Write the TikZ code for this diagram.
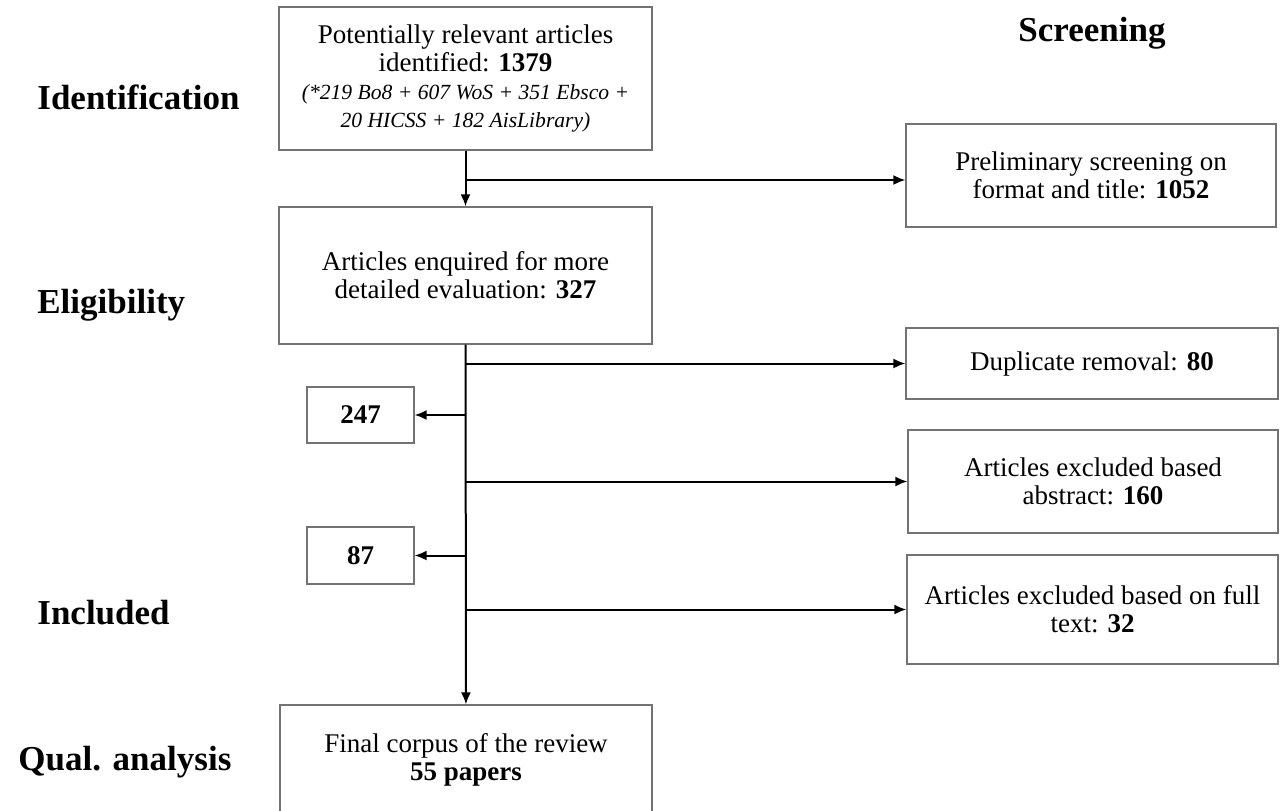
\documentclass[tikz,border=0pt]{standalone}
\usepackage{fontspec}
\setmainfont{Liberation Serif}
\usetikzlibrary{arrows.meta}
\tikzset{flowbox/.style={draw=black!55, line width=0.6pt, fill=white, align=center, inner sep=2pt, font=\fontsize{13.5}{14}\selectfont}}
\tikzset{stage/.style={anchor=west, inner sep=0pt, font=\fontsize{17.5}{20}\selectfont\bfseries}}
\tikzset{flow/.style={line width=1pt, -{Latex[length=6pt,width=5pt]}}}

\begin{document}
\begin{tikzpicture}[x=0.5pt,y=-0.5pt]
\useasboundingbox (0,0) rectangle (1286,810);
% stage labels
\node[stage, anchor=center] (screening) at (1092,33) {Screening};
\node[stage] (identification) at (37,97) {Identification};
\node[stage] (eligibility) at (37,305) {Eligibility};
\node[stage] (included) at (37,613) {Included};
\node[stage] (qual) at (18,762) {Qual. analysis};
% main column
\node[flowbox, minimum width=186.5pt, minimum height=71.5pt] (ident) at (465.5,78.5) {Potentially relevant articles\\identified: \textbf{1379}\\{\fontsize{10.8}{13}\selectfont\itshape (*219 Bo8 + 607 WoS + 351 Ebsco +}\\{\fontsize{10.8}{13}\selectfont\itshape 20 HICSS + 182 AisLibrary)}};
\node[flowbox, minimum width=186.5pt, minimum height=68.5pt] (elig) at (465.5,275.5) {Articles enquired for more\\detailed evaluation: \textbf{327}};
\node[flowbox, minimum width=186pt, minimum height=55pt] (final) at (466,760) {Final corpus of the review\\\textbf{55 papers}};
% left boxes
\node[flowbox, minimum width=53.5pt, minimum height=28pt] (n247) at (360.5,415) {\textbf{247}};
\node[flowbox, minimum width=53.5pt, minimum height=28.5pt] (n87) at (360.5,555.5) {\textbf{87}};
% screening boxes
\node[flowbox, minimum width=185pt, minimum height=51.5pt] (prelim) at (1091,175.5) {Preliminary screening on\\format and title: \textbf{1052}};
\node[flowbox, minimum width=186pt, minimum height=35.5pt] (dup) at (1092,363.5) {Duplicate removal: \textbf{80}};
\node[flowbox, minimum width=185pt, minimum height=51.5pt] (abstr) at (1093,481.5) {Articles excluded based\\abstract: \textbf{160}};
\node[flowbox, minimum width=185.5pt, minimum height=54.5pt] (fulltext) at (1092.5,609.5) {Articles excluded based on full\\text: \textbf{32}};
% connectors
\coordinate (j1) at (465.5,180);
\draw[flow] (ident) -- (elig);
\draw[flow] (j1) -- (j1 -| prelim.west);
\draw[flow] (elig) -- (final);
\draw[flow] (elig.south |- dup) -- (dup.west);
\draw[flow] (elig.south |- abstr) -- (abstr.west);
\draw[flow] (elig.south |- fulltext) -- (fulltext.west);
\draw[flow] (elig.south |- n247) -- (n247.east);
\draw[flow] (elig.south |- n87) -- (n87.east);
\end{tikzpicture}
\end{document}
